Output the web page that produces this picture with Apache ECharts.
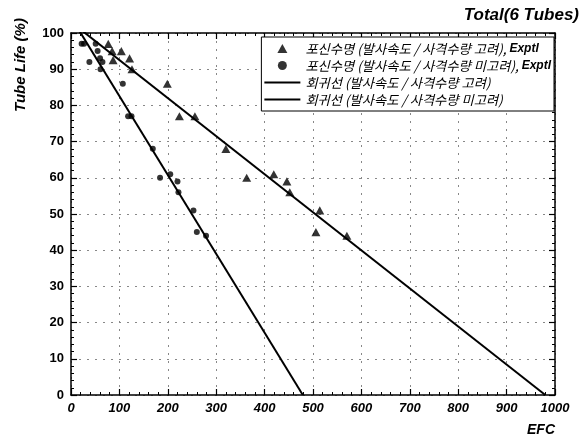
<!DOCTYPE html>
<html>
<head>
<meta charset="utf-8">
<script src="https://cdn.jsdelivr.net/npm/echarts@6/dist/echarts.min.js"></script>
<style>
  html, body { margin: 0; padding: 0; background: #fff; }
  #chart { width: 588px; height: 443px; }
</style>
</head>
<body>
<div id="chart"></div>
<script>
// Tube life test points: [EFC, Tube Life %]
const seriesNames = [
  '포신수명 (발사속도 / 사격수량 고려), Exptl',
  '포신수명 (발사속도 / 사격수량 미고려), Exptl',
  '회귀선 (발사속도 / 사격수량 고려)',
  '회귀선 (발사속도 / 사격수량 미고려)'
];
const exptlConsidered = [
  [77, 97], [85, 95], [87, 92.5], [104, 95], [121, 93], [126, 90],
  [199, 86], [224, 77], [256, 77], [320, 68], [363, 60], [419, 61],
  [446, 59], [452, 56], [514, 51], [506, 45], [570, 44]
];
const exptlNotConsidered = [
  [22, 97], [27, 97], [51, 97], [55, 95], [38, 92], [60, 93], [65, 92],
  [61, 90], [107, 86], [118, 77], [125, 77], [169, 68], [184, 60],
  [205, 61], [220, 59], [222, 56], [253, 51], [260, 45], [279, 44]
];
// Regression lines, given by their end points
const fitConsidered = [[0, 103.05], [980, 0]];
const fitNotConsidered = [[0, 104.36], [479, 0]];

const xTicks = { min: 0, max: 1000, interval: 100 };
const yTicks = { min: 0, max: 100, interval: 10 };

const baseFont = 'Liberation Sans, Arial, sans-serif';
const krFont = '"Noto Sans CJK KR", sans-serif';
// Triangle as a path so it keeps its shape in the legend
const trianglePath = 'path://M5,0L10,9L0,9Z';

const chart = echarts.init(document.getElementById('chart'), null, { renderer: 'canvas' });

function frameAxis(extra) {
  return Object.assign({
    axisLine: { show: true, onZero: false, lineStyle: { color: '#000', width: 1.5 } },
    axisTick: { show: true, inside: true, length: 6, lineStyle: { color: '#000', width: 1.2 } },
    minorTick: { show: true, splitNumber: 5, length: 3, lineStyle: { color: '#000', width: 1 } },
    splitLine: { show: false },
    axisLabel: { show: false }
  }, extra);
}

chart.setOption({
  animation: false,
  backgroundColor: '#fff',
  title: {
    text: 'Total(6 Tubes)',
    right: 4,
    top: 2,
    textStyle: { fontFamily: baseFont, fontSize: 17, fontWeight: 'bold', fontStyle: 'italic', color: '#000' }
  },
  grid: { left: 71, right: 33, top: 33, bottom: 48, containLabel: false },
  legend: {
    orient: 'vertical',
    right: 34,
    top: 37,
    data: seriesNames,
    backgroundColor: '#fff',
    borderColor: '#000',
    borderWidth: 1,
    padding: [4, 3, 4, 2],
    itemGap: 2,
    itemWidth: 36,
    itemHeight: 9,
    formatter: function (name) {
      const i = name.indexOf(', Exptl');
      return i < 0 ? '{k|' + name + '}' : '{k|' + name.slice(0, i) + ', }{b|Exptl}';
    },
    textStyle: {
      fontFamily: krFont, fontSize: 13.3, fontStyle: 'italic', color: '#000', lineHeight: 15,
      rich: {
        k: { fontFamily: krFont, fontSize: 13.3, fontStyle: 'italic', color: '#000', lineHeight: 15, verticalAlign: 'middle' },
        b: { fontFamily: baseFont, fontSize: 12, fontStyle: 'italic', fontWeight: 'bold', color: '#000', lineHeight: 15, verticalAlign: 'middle' }
      }
    }
  },
  xAxis: [
    frameAxis({
      type: 'value', position: 'bottom', min: xTicks.min, max: xTicks.max, interval: xTicks.interval,
      splitLine: { show: true, lineStyle: { color: '#888', type: [2, 6], width: 1 } },
      axisLabel: {
        show: true, margin: 7, color: '#000', formatter: function (v) { return String(v); },
        fontFamily: baseFont, fontSize: 13, fontWeight: 'bold', fontStyle: 'italic'
      }
    }),
    frameAxis({ type: 'value', position: 'top', min: xTicks.min, max: xTicks.max, interval: xTicks.interval })
  ],
  yAxis: [
    frameAxis({
      type: 'value', position: 'left', min: yTicks.min, max: yTicks.max, interval: yTicks.interval,
      splitLine: { show: true, lineStyle: { color: '#888', type: [2, 6], width: 1 } },
      axisLabel: {
        show: true, margin: 7, color: '#000',
        fontFamily: baseFont, fontSize: 13, fontWeight: 'bold'
      }
    }),
    frameAxis({ type: 'value', position: 'right', min: yTicks.min, max: yTicks.max, interval: yTicks.interval })
  ],
  graphic: [
    {
      type: 'text', x: 13, y: 112, rotation: Math.PI / 2,
      style: {
        text: 'Tube Life (%)', fill: '#000',
        font: 'italic bold 15px ' + baseFont, textAlign: 'left', textVerticalAlign: 'top'
      }
    },
    {
      type: 'text', x: 555, y: 423,
      style: {
        text: 'EFC', fill: '#000',
        font: 'italic bold 14px ' + baseFont, textAlign: 'right', textVerticalAlign: 'top'
      }
    }
  ],
  series: [
    {
      name: seriesNames[0], type: 'scatter', data: exptlConsidered,
      symbol: trianglePath, symbolKeepAspect: true, symbolSize: 9,
      itemStyle: { color: '#000' }, z: 5
    },
    {
      name: seriesNames[1], type: 'scatter', data: exptlNotConsidered,
      symbol: 'circle', symbolSize: 6, itemStyle: { color: '#000' }, z: 5
    },
    {
      name: seriesNames[2], type: 'line', data: fitConsidered, showSymbol: false, symbol: 'none',
      clip: true, lineStyle: { color: '#000', width: 2 }, itemStyle: { color: '#000', opacity: 0 }
    },
    {
      name: seriesNames[3], type: 'line', data: fitNotConsidered, showSymbol: false, symbol: 'none',
      clip: true, lineStyle: { color: '#000', width: 2 }, itemStyle: { color: '#000', opacity: 0 }
    }
  ]
});
</script>
</body>
</html>
